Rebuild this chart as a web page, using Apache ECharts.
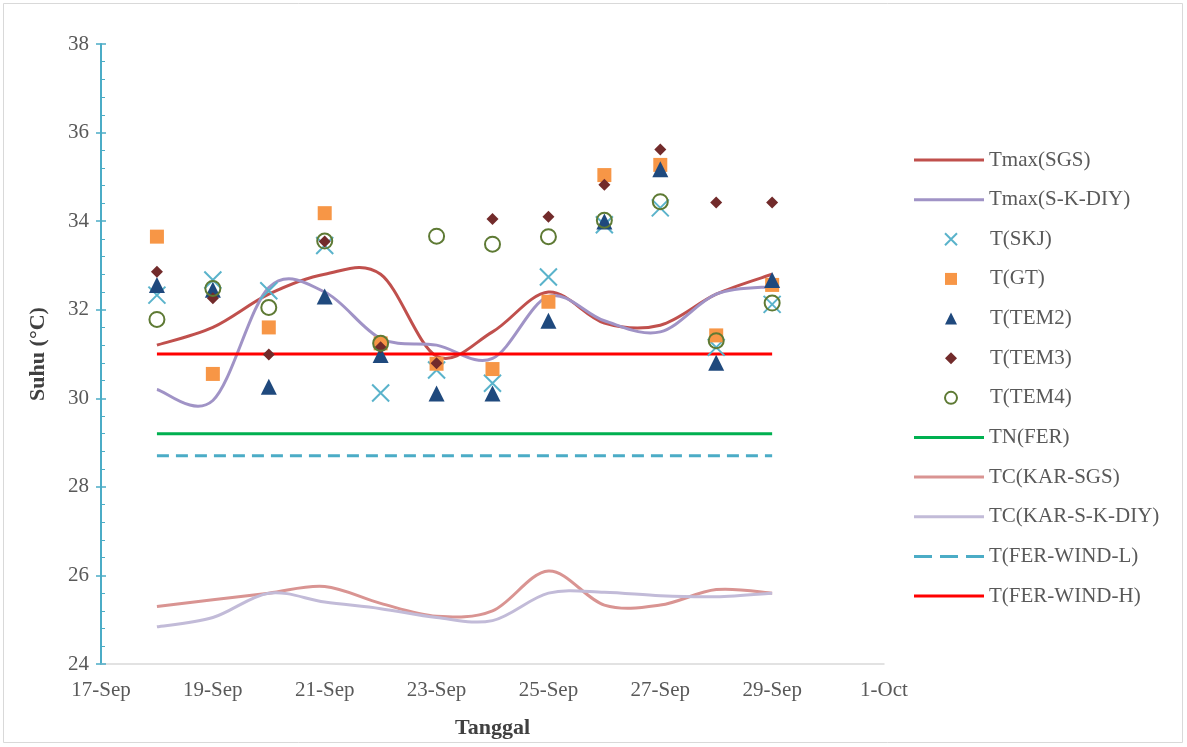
<!DOCTYPE html>
<html>
<head>
<meta charset="utf-8">
<script src="https://cdn.jsdelivr.net/npm/echarts@6/dist/echarts.min.js"></script>
<style>
html,body{margin:0;padding:0;background:#fff;}
#chart{width:1187px;height:747px;}
</style>
</head>
<body>
<div id="chart"></div>
<script>
// ---- data ----
const dates = ['18-Sep','19-Sep','20-Sep','21-Sep','22-Sep','23-Sep','24-Sep','25-Sep','26-Sep','27-Sep','28-Sep','29-Sep'];
const dayOfMonth = [18,19,20,21,22,23,24,25,26,27,28,29];
const xTickLabels = ['17-Sep','19-Sep','21-Sep','23-Sep','25-Sep','27-Sep','29-Sep','1-Oct'];

const tmaxSGS    = [31.2, 31.6, 32.35, 32.8, 32.8, 30.95, 31.5, 32.4, 31.7, 31.65, 32.35, 32.8];
const tmaxSKDIY  = [30.2, 29.95, 32.5, 32.4, 31.35, 31.2, 30.9, 32.3, 31.75, 31.5, 32.35, 32.52];
const tSKJ       = [32.33, 32.67, 32.43, 33.45, 30.12, 30.64, 30.34, 32.74, 33.92, 34.3, 31.15, 32.12];
const tGT        = [33.65, 30.55, 31.6, 34.18, 31.24, 30.78, 30.66, 32.18, 35.04, 35.27, 31.42, 32.56];
const tTEM2      = [32.56, 32.45, 30.26, 32.3, 30.98, 30.11, 30.11, 31.75, 33.99, 35.17, 30.8, 32.67];
const tTEM3      = [32.86, 32.26, 30.99, 33.54, 31.15, 30.79, 34.05, 34.1, 34.82, 35.62, 34.42, 34.42];
const tTEM4      = [31.78, 32.48, 32.05, 33.55, 31.24, 33.66, 33.48, 33.65, 34.02, 34.44, 31.3, 32.15];
const tnFER      = [29.2, 29.2, 29.2, 29.2, 29.2, 29.2, 29.2, 29.2, 29.2, 29.2, 29.2, 29.2];
const tcKARSGS   = [25.3, 25.45, 25.6, 25.75, 25.37, 25.08, 25.2, 26.1, 25.33, 25.33, 25.68, 25.6];
const tcKARSKDIY = [24.84, 25.05, 25.6, 25.4, 25.25, 25.05, 24.98, 25.6, 25.62, 25.54, 25.52, 25.6];
const tFERWindL  = [28.7, 28.7, 28.7, 28.7, 28.7, 28.7, 28.7, 28.7, 28.7, 28.7, 28.7, 28.7];
const tFERWindH  = [31.0, 31.0, 31.0, 31.0, 31.0, 31.0, 31.0, 31.0, 31.0, 31.0, 31.0, 31.0];

// ---- helpers ----
const pts = vals => dayOfMonth.map((d, i) => [d, vals[i]]);
const FONT = 'Liberation Serif';
const TXT = '#595959';

// Excel-like smoothed line (Catmull-Rom through points mapped by the axes)
function smoothPathData(c) {
  let d = 'M' + c[0][0] + ',' + c[0][1];
  for (let i = 0; i < c.length - 1; i++) {
    const p0 = c[i - 1] || c[i], p1 = c[i], p2 = c[i + 1], p3 = c[i + 2] || c[i + 1];
    const c1x = p1[0] + (p2[0] - p0[0]) / 6, c1y = p1[1] + (p2[1] - p0[1]) / 6;
    const c2x = p2[0] - (p3[0] - p1[0]) / 6, c2y = p2[1] - (p3[1] - p1[1]) / 6;
    d += 'C' + c1x + ',' + c1y + ',' + c2x + ',' + c2y + ',' + p2[0] + ',' + p2[1];
  }
  return d;
}
function smoothSeries(name, vals, color) {
  const data = pts(vals);
  return {
    name: name, type: 'custom', coordinateSystem: 'cartesian2d',
    data: data, encode: { x: 0, y: 1 },
    itemStyle: { color: color },
    z: 2,
    renderItem: function (params, api) {
      if (params.dataIndex !== 0) return null;
      const coords = data.map(p => api.coord(p));
      return {
        type: 'path',
        shape: { pathData: smoothPathData(coords) },
        style: { fill: 'none', stroke: color, lineWidth: 3, lineJoin: 'round' },
        silent: true
      };
    }
  };
}
function straightSeries(name, vals, color, dash) {
  return {
    name: name, type: 'line', data: pts(vals), smooth: false,
    showSymbol: false, symbol: 'none',
    lineStyle: { color: color, width: 3, type: dash ? [12, 7] : 'solid', cap: 'butt' },
    itemStyle: { color: color },
    z: 2
  };
}
function scatterSeries(name, vals, symbol, size, itemStyle) {
  itemStyle.opacity = 1;
  return {
    name: name, type: 'scatter', data: pts(vals),
    symbol: symbol, symbolSize: size,
    itemStyle: itemStyle, z: 5
  };
}

const PITCH = 39.64;
const LTOP = 144.5;
const legendText = { fontFamily: FONT, fontSize: 21, color: TXT, lineHeight: 21 };
const legendBase = { orient: 'vertical', itemGap: PITCH - 21, selectedMode: false };

const chart = echarts.init(document.getElementById('chart'), null, { renderer: 'canvas' });
const option = {
  backgroundColor: '#ffffff',
  animation: false,
  textStyle: { fontFamily: FONT },
  graphic: [{
    type: 'rect', shape: { x: 3.5, y: 3.5, width: 1179, height: 739 },
    style: { fill: 'none', stroke: '#d9d9d9', lineWidth: 1 }, silent: true
  }],
  grid: { left: 101, right: 303, top: 44, bottom: 83, containLabel: false },
  legend: [
    Object.assign({}, legendBase, {
      left: 909, top: LTOP, itemWidth: 70, itemHeight: 3,
      textStyle: legendText,
      data: [{ name: 'Tmax(SGS)', icon: 'rect' }, { name: 'Tmax(S-K-DIY)', icon: 'rect' }]
    }),
    Object.assign({}, legendBase, {
      left: 939, top: LTOP + 2 * PITCH, itemWidth: 12, itemHeight: 12,
      textStyle: Object.assign({}, legendText, { padding: [0, 0, 0, 28] }),
      data: ['T(SKJ)', 'T(GT)', 'T(TEM2)', 'T(TEM3)', 'T(TEM4)']
    }),
    Object.assign({}, legendBase, {
      left: 909, top: LTOP + 7 * PITCH, itemWidth: 70, itemHeight: 3,
      textStyle: legendText,
      data: [
        { name: 'TN(FER)', icon: 'rect' },
        { name: 'TC(KAR-SGS)', icon: 'rect' },
        { name: 'TC(KAR-S-K-DIY)', icon: 'rect' },
        { name: 'T(FER-WIND-L)', icon: 'path://M0,0h18v3h-18zM26,0h18v3h-18zM52,0h18v3h-18z' },
        { name: 'T(FER-WIND-H)', icon: 'rect' }
      ]
    })
  ],
  xAxis: {
    type: 'value', min: 17, max: 31, interval: 2,
    name: 'Tanggal', nameLocation: 'middle', nameGap: 53,
    nameTextStyle: { fontFamily: FONT, fontSize: 22, fontWeight: 'bold', color: '#404040' },
    axisLine: { show: true, lineStyle: { color: '#d9d9d9', width: 1.5 } },
    axisTick: { show: false },
    splitLine: { show: false },
    axisLabel: {
      fontFamily: FONT, fontSize: 21, color: TXT, margin: 16,
      formatter: v => xTickLabels[Math.round((v - 17) / 2)] || ''
    }
  },
  yAxis: [{
    type: 'value', min: 24, max: 38, interval: 2, position: 'left',
    name: 'Suhu (°C)', nameLocation: 'middle', nameGap: 52,
    nameTextStyle: { fontFamily: FONT, fontSize: 22, fontWeight: 'bold', color: '#404040' },
    axisLine: { show: true, lineStyle: { color: '#4bacc6', width: 2 } },
    axisTick: { show: true, inside: false, length: 5, lineStyle: { color: '#4bacc6', width: 1.5 } },
    splitLine: { show: false },
    axisLabel: { fontFamily: FONT, fontSize: 21, color: TXT, margin: 12 }
  }, {
    type: 'value', min: 24, max: 38, interval: 2, position: 'left', offset: 0,
    axisLine: { show: false },
    axisTick: { show: true, inside: true, length: 5, lineStyle: { color: '#4bacc6', width: 1.5 } },
    minorTick: { show: true, splitNumber: 5, length: 4, lineStyle: { color: '#4bacc6', width: 1 } },
    splitLine: { show: false },
    axisLabel: { show: false }
  }],
  series: [
    smoothSeries('Tmax(SGS)', tmaxSGS, '#c0504d'),
    smoothSeries('Tmax(S-K-DIY)', tmaxSKDIY, '#a093c6'),
    scatterSeries('T(SKJ)', tSKJ, 'path://M0,0L10,10M10,0L0,10', 17,
      { color: 'rgba(0,0,0,0)', borderColor: '#5ab3cb', borderWidth: 2 }),
    scatterSeries('T(GT)', tGT, 'rect', 14, { color: '#f79646' }),
    scatterSeries('T(TEM2)', tTEM2, 'triangle', 16, { color: '#1f497d' }),
    scatterSeries('T(TEM3)', tTEM3, 'diamond', 12, { color: '#722b2b' }),
    scatterSeries('T(TEM4)', tTEM4, 'circle', 15,
      { color: 'rgba(0,0,0,0)', borderColor: '#5e7a34', borderWidth: 2 }),
    straightSeries('TN(FER)', tnFER, '#00b050'),
    smoothSeries('TC(KAR-SGS)', tcKARSGS, '#d99492'),
    smoothSeries('TC(KAR-S-K-DIY)', tcKARSKDIY, '#c2bbd8'),
    straightSeries('T(FER-WIND-L)', tFERWindL, '#4bacc6', true),
    straightSeries('T(FER-WIND-H)', tFERWindH, '#ff0000')
  ]
};
chart.setOption(option);
</script>
</body>
</html>
